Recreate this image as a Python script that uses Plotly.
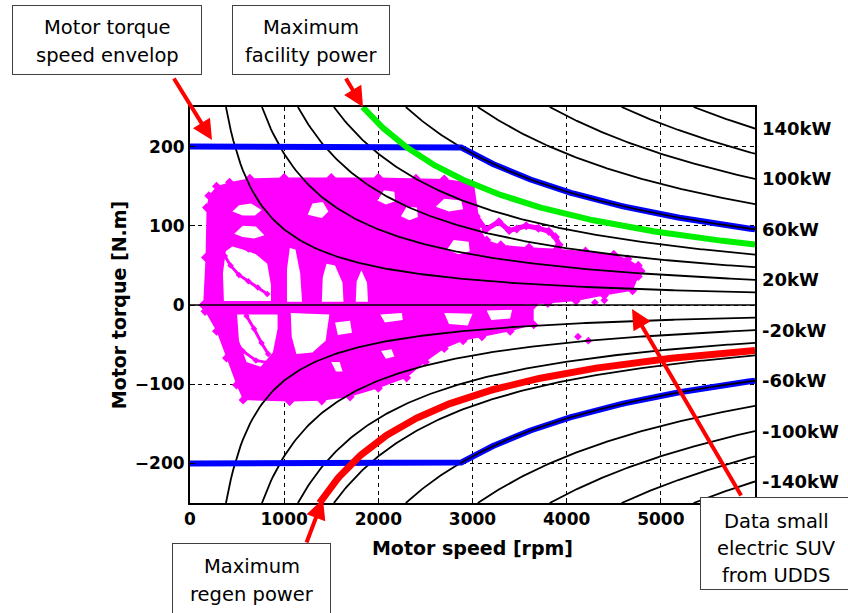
import math
import plotly.graph_objects as go

# ---------------- axis / reference data ----------------
speed_ticks = [0, 1000, 2000, 3000, 4000, 5000]
torque_ticks = [-200, -100, 0, 100, 200]
speed_max = 6000
torque_lim = 250

power_lines_kw = [10, 20, 30, 40, 60, 80, 100, 120, 140,
                  -10, -20, -30, -40, -60, -80, -100, -120, -140]
power_labels_kw = [140, 100, 60, 20, -20, -60, -100, -140]

max_torque_nm = 200
base_power_kw = 60
facility_power_kw = 48
regen_power_kw = -36

# ---------------- UDDS operating points (rpm, N.m) ----------------
# upper (traction) cloud outline
upper_rpm = [140, 165, 176, 200, 282, 420, 635, 1000, 1500, 2000, 2400, 2700, 2900, 2990, 3020, 3060,
             3150, 3300, 3600, 3900, 4200, 4500, 4650, 4760, 4790, 4760, 4700, 4400, 4100, 3800, 3500]
upper_nm = [0, 60, 123, 138, 150, 155, 160, 161, 161, 161, 160, 159, 156, 150, 125, 100,
            82, 76, 73, 71, 68, 64, 58, 50, 43, 36, 18, 12, 5, 2, 0]
# white gaps inside the traction cloud
gapA_rpm = [360, 350, 380, 450, 560, 700, 820, 860, 860]
gapA_nm = [5, 40, 68, 74, 70, 64, 52, 25, 5]
gapA2_rpm = [470, 560, 700, 790, 680, 560]
gapA2_nm = [90, 100, 99, 88, 84, 86]
gapA3_rpm = [450, 520, 650, 760, 690, 560]
gapA3_nm = [118, 126, 128, 120, 113, 113]
gapB_rpm = [1030, 1030, 1060, 1120, 1170, 1190]
gapB_nm = [4, 45, 72, 70, 40, 4]
gapC_rpm = [1400, 1410, 1450, 1540, 1620, 1630]
gapC_nm = [4, 35, 52, 50, 28, 4]
gapD_rpm = [1760, 1770, 1820, 1880, 1890]
gapD_nm = [4, 30, 44, 28, 4]
gapE_rpm = [1250, 1300, 1410, 1470, 1400]
gapE_nm = [114, 128, 130, 118, 110]
gapF_rpm = [1990, 2060, 2170, 2180, 2080]
gapF_nm = [132, 145, 143, 131, 127]
gapG_rpm = [2240, 2300, 2410, 2420, 2330]
gapG_nm = [112, 124, 123, 111, 107]
gapI_rpm = [2610, 2700, 2880, 2900, 2750]
gapI_nm = [124, 134, 132, 121, 118]
gapJ_rpm = [2730, 2800, 2960, 2970, 2850]
gapJ_nm = [70, 82, 80, 68, 64]

# lower (regen) cloud outline
lower_rpm = [140, 1000, 2000, 3000, 3650, 3650, 3400, 3100, 2900, 2700, 2500, 2300, 2000, 1700, 1400,
             1058, 564, 494, 388, 282, 160]
lower_nm = [0, 0, 0, 0, 0, -25, -33, -40, -45, -55, -72, -92, -105, -116, -121,
            -122, -120, -101, -67, -33, -8]
gapL1_rpm = [500, 520, 600, 750, 880, 930, 930]
gapL1_nm = [-12, -45, -72, -78, -60, -30, -12]
gapL2_rpm = [1070, 1080, 1130, 1300, 1440, 1480]
gapL2_nm = [-10, -40, -62, -60, -45, -12]
gapL3_rpm = [1540, 1570, 1720, 1700]
gapL3_nm = [-22, -38, -35, -20]
gapL4_rpm = [2020, 2070, 2260, 2250]
gapL4_nm = [-12, -22, -19, -10]
gapL5_rpm = [1500, 1550, 1620, 1590]
gapL5_nm = [-72, -84, -84, -72]
gapL6_rpm = [2030, 2080, 2170, 2140]
gapL6_nm = [-58, -68, -65, -56]
gapL7_rpm = [2700, 2750, 2950, 3000]
gapL7_nm = [-10, -24, -26, -11]
gapL8_rpm = [3150, 3200, 3400, 3420]
gapL8_nm = [-7, -19, -17, -6]

# pink traces crossing the gaps
loop1_rpm = [370, 430, 520, 620, 720, 820]
loop1_nm = [62, 50, 38, 30, 22, 14]
loop2_rpm = [420, 480, 560, 620]
loop2_nm = [95, 84, 78, 70]
loop3_rpm = [360, 450, 560, 700, 880]
loop3_nm = [-20, -40, -58, -70, -74]
loop4_rpm = [600, 680, 760, 830]
loop4_nm = [-14, -30, -48, -62]
# a single high-load excursion
wave_rpm = [2990, 3040, 3140, 3280, 3390, 3470, 3570, 3700, 3810, 3880, 3920]
wave_nm = [152, 112, 95, 105, 94, 96, 100, 97, 93, 86, 76]
# isolated points
stray_rpm = [4230, 4120, 4300, 4400]
stray_nm = [-45, -40, 3, 6]

PINK = "#FF00FF"
FONT = "DejaVu Sans, Arial, sans-serif"


def area(xs, ys):
    s = 0.0
    for i in range(len(xs)):
        j = (i + 1) % len(xs)
        s += xs[i] * ys[j] - xs[j] * ys[i]
    return s / 2


def region(outer, holes):
    xs, ys = [], []
    ox, oy = outer
    if area(ox, oy) < 0:
        ox, oy = ox[::-1], oy[::-1]
    xs += list(ox) + [ox[0], None]
    ys += list(oy) + [oy[0], None]
    for hx, hy in holes:
        if area(hx, hy) > 0:
            hx, hy = hx[::-1], hy[::-1]
        xs += list(hx) + [hx[0], None]
        ys += list(hy) + [hy[0], None]
    return xs, ys


def iso_power(p_kw, n_from=None, n_pts=220):
    start = abs(p_kw) * 60000 / (2 * math.pi * torque_lim) if n_from is None else n_from
    sp = [start + (speed_max - start) * i / (n_pts - 1) for i in range(n_pts)]
    tq = [p_kw * 60000 / (2 * math.pi * n) for n in sp]
    return sp, tq


fig = go.Figure()

# pink cloud
ux, uy = region((upper_rpm, upper_nm),
                [(gapA_rpm, gapA_nm), (gapA2_rpm, gapA2_nm), (gapA3_rpm, gapA3_nm),
                 (gapB_rpm, gapB_nm), (gapC_rpm, gapC_nm), (gapD_rpm, gapD_nm),
                 (gapE_rpm, gapE_nm), (gapF_rpm, gapF_nm), (gapG_rpm, gapG_nm),
                 (gapI_rpm, gapI_nm), (gapJ_rpm, gapJ_nm)])
lx, ly = region((lower_rpm, lower_nm),
                [(gapL1_rpm, gapL1_nm), (gapL2_rpm, gapL2_nm), (gapL3_rpm, gapL3_nm),
                 (gapL4_rpm, gapL4_nm), (gapL5_rpm, gapL5_nm), (gapL6_rpm, gapL6_nm),
                 (gapL7_rpm, gapL7_nm), (gapL8_rpm, gapL8_nm)])
for xs, ys in [(ux, uy), (lx, ly)]:
    fig.add_trace(go.Scatter(x=xs, y=ys, mode="lines", fill="toself", fillcolor=PINK,
                             line=dict(width=0, color=PINK), hoverinfo="skip", showlegend=False))
# outline dots to roughen the cloud edge
for xs, ys in [(upper_rpm, upper_nm), (lower_rpm, lower_nm)]:
    fig.add_trace(go.Scatter(x=xs, y=ys, mode="markers",
                             marker=dict(color=PINK, size=7, symbol="diamond"), showlegend=False))
for xs, ys, w in [(loop1_rpm, loop1_nm, 3), (loop2_rpm, loop2_nm, 3), (loop3_rpm, loop3_nm, 3),
                  (loop4_rpm, loop4_nm, 3), (wave_rpm, wave_nm, 5)]:
    fig.add_trace(go.Scatter(x=xs, y=ys, mode="lines+markers", line=dict(color=PINK, width=w),
                             marker=dict(color=PINK, size=w + 2, symbol="diamond"), showlegend=False))
fig.add_trace(go.Scatter(x=stray_rpm, y=stray_nm, mode="markers",
                         marker=dict(color=PINK, size=6, symbol="diamond"), showlegend=False))

# zero line
fig.add_trace(go.Scatter(x=[0, speed_max], y=[0, 0], mode="lines",
                         line=dict(color="black", width=1.6), showlegend=False))

# iso-power lines
for p in power_lines_kw:
    sx, ty = iso_power(p)
    fig.add_trace(go.Scatter(x=sx, y=ty, mode="lines", line=dict(color="black", width=1.8),
                             showlegend=False, hoverinfo="skip"))

# motor envelope (blue)
corner = base_power_kw * 60000 / (2 * math.pi * max_torque_nm)
cx, cy = iso_power(base_power_kw, n_from=corner)
for sgn in (1, -1):
    fig.add_trace(go.Scatter(x=[0] + cx, y=[sgn * max_torque_nm] + [sgn * v for v in cy],
                             mode="lines", line=dict(color="#0000FF", width=6), showlegend=False))
    fig.add_trace(go.Scatter(x=cx, y=[sgn * v for v in cy], mode="lines",
                             line=dict(color="black", width=1.6), showlegend=False))

# facility power (green) and regen power (red)
gx, gy = iso_power(facility_power_kw)
fig.add_trace(go.Scatter(x=gx, y=gy, mode="lines", line=dict(color="#00F000", width=6), showlegend=False))
rx, ry = iso_power(regen_power_kw)
fig.add_trace(go.Scatter(x=rx, y=ry, mode="lines", line=dict(color="#FF0000", width=7), showlegend=False))

# ---------------- layout ----------------
L, R, T, B = 190, 93, 107, 110
W, H = 848, 613
PW, PH = W - L - R, H - T - B


def px(xp):
    return (xp - L) / PW


def py(yp):
    return (H - B - yp) / PH


ann = []
# right-hand power labels
for p in power_labels_kw:
    ann.append(dict(x=1, xref="paper", y=p * 60000 / (2 * math.pi * speed_max), yref="y",
                    text=f"{p}kW", showarrow=False, xanchor="left", xshift=5,
                    font=dict(family=FONT, size=18, color="black", weight="bold")))

# red arrows (head, tail in pixels)
arrows = [((212, 140), (173, 77)), ((363, 107), (345, 77)),
          ((323, 499), (306, 544)), ((632, 309), (742, 497))]
for (hx, hy), (tx, ty) in arrows:
    ann.append(dict(x=px(hx), y=py(hy), xref="paper", yref="paper", text="", showarrow=True,
                    ax=tx - hx, ay=ty - hy, arrowcolor="#FF0000", arrowwidth=4,
                    arrowhead=2, arrowsize=1.0, standoff=0))

# callout boxes: (left, top, right, bottom) in px, lines, line centres
boxes = [((12, 5, 202, 75), ["Motor torque", "speed envelop"], [27, 55]),
         ((232, 5, 390, 75), ["Maximum", "facility power"], [27, 55]),
         ((172, 543, 331, 616), ["Maximum", "regen power"], [566, 594]),
         ((700, 497, 852, 590), ["Data small", "electric SUV", "from UDDS"], [521, 548, 575])]
for (x0, y0, x1, y1), lines, ys in boxes:
    ann.append(dict(x=px((x0 + x1) / 2), y=py((y0 + y1) / 2), xref="paper", yref="paper",
                    text=" ", showarrow=False, xanchor="center", yanchor="middle",
                    width=x1 - x0 - 2, height=y1 - y0 - 2, borderpad=0,
                    bordercolor="#404040", borderwidth=1, bgcolor="white"))
    for line, yc in zip(lines, ys):
        ann.append(dict(x=px((x0 + x1) / 2), y=py(yc), xref="paper", yref="paper",
                        text=line, showarrow=False, xanchor="center", yanchor="middle",
                        font=dict(family=FONT, size=19.5, color="black")))

fig.update_layout(
    width=W, height=H, margin=dict(l=L, r=R, t=T, b=B),
    paper_bgcolor="white", plot_bgcolor="white", showlegend=False,
    annotations=ann,
    xaxis=dict(range=[0, speed_max], tickvals=speed_ticks, ticks="inside", ticklen=5,
               tickcolor="black", showline=True, linecolor="black", linewidth=2, mirror=True,
               showgrid=True, gridcolor="black", gridwidth=1, griddash="4px,4px", zeroline=False,
               tickfont=dict(family=FONT, size=17, color="black", weight="bold"),
               title=dict(text="Motor speed [rpm]", standoff=13,
                          font=dict(family=FONT, size=19, color="black", weight="bold"))),
    yaxis=dict(range=[-torque_lim, torque_lim], tickvals=torque_ticks, ticks="inside", ticklen=5,
               tickcolor="black", showline=True, linecolor="black", linewidth=2, mirror=True,
               showgrid=True, gridcolor="black", gridwidth=1, griddash="4px,4px", zeroline=False,
               tickfont=dict(family=FONT, size=17, color="black", weight="bold"),
               title=dict(text="Motor torque [N.m]", standoff=3,
                          font=dict(family=FONT, size=19, color="black", weight="bold"))),
)

fig.write_html("out.html", config={"displayModeBar": False},
               post_script="document.body.style.margin='0';")
